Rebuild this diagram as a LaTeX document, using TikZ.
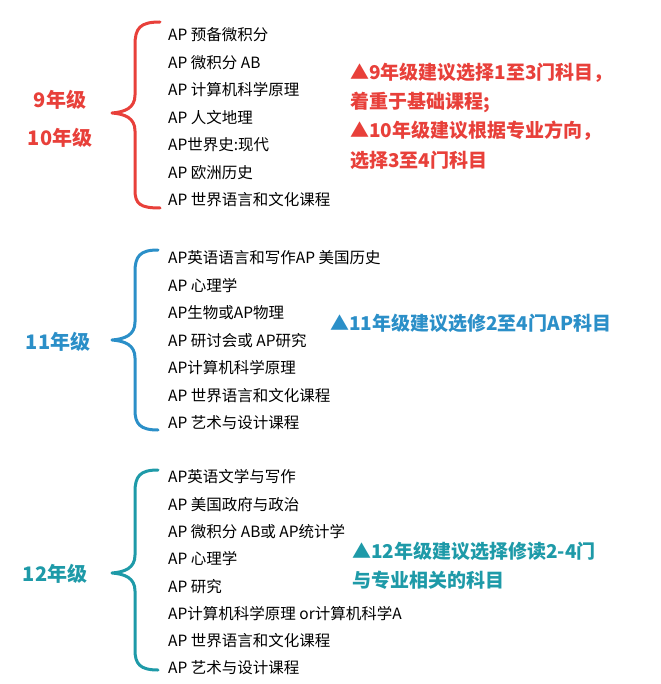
\documentclass[tikz,border=0pt]{standalone}
\usepackage{fontspec}
\newfontfamily\cjk{Noto Sans CJK SC}
\definecolor{cr}{HTML}{E8403A}
\definecolor{cb}{HTML}{2B8FC8}
\definecolor{ct}{HTML}{1E9AA8}
\begin{document}
\begin{tikzpicture}[x=1pt,y=-1pt,
 item/.style={anchor=west,font=\cjk\fontsize{15.5}{17}\selectfont,inner sep=0pt},
 grade/.style={font=\cjk\bfseries\fontsize{20}{22}\selectfont,inner sep=0pt},
 note/.style={anchor=west,font=\cjk\bfseries\fontsize{19}{21}\selectfont,inner sep=0pt},
 brace/.style={line width=3pt,line cap=round,line join=round}]
\useasboundingbox[fill=white] (0,0) rectangle (660,684);
% red
\draw[brace,cr] (160,22) .. controls (140,22) and (135,28) .. (135,45) -- (135,95) .. controls (135,108) and (125,112) .. (112,113) .. controls (125,114) and (135,118) .. (135,131) -- (135,190) .. controls (135,204) and (140,208) .. (160,208);
\foreach \t [count=\i] in {AP 预备微积分,AP 微积分 AB,AP 计算机科学原理,AP 人文地理,AP世界史:现代,AP 欧洲历史,AP 世界语言和文化课程}
  \node[item] (r\i) at (168,{35+27.5*(\i-1)}) {\t};
\node[grade,cr] (g9) at (60,100) {9年级};
\node[grade,cr] (g10) at (60,138) {10年级};
\node[note,cr] (n1) at (350,73) {▲9年级建议选择1至3门科目，};
\node[note,cr] (n2) at (350,102) {着重于基础课程;};
\node[note,cr] (n3) at (350,131) {▲10年级建议根据专业方向，};
\node[note,cr] (n4) at (350,160) {选择3至4门科目};
% blue
\draw[brace,cb] (158,250) .. controls (140,250) and (135,256) .. (135,272) -- (135,322) .. controls (135,335) and (125,339) .. (112,340) .. controls (125,341) and (135,345) .. (135,358) -- (135,410) .. controls (135,424) and (140,430) .. (158,430);
\foreach \t [count=\i] in {AP英语语言和写作AP 美国历史,AP 心理学,AP生物或AP物理,AP 研讨会或 AP研究,AP计算机科学原理,AP 世界语言和文化课程,AP 艺术与设计课程}
  \node[item] (b\i) at (168,{258+27.5*(\i-1)}) {\t};
\node[grade,cb] (g11) at (58,342) {11年级};
\node[note,cb] (n5) at (330,323) {▲11年级建议选修2至4门AP科目};
% teal
\draw[brace,ct] (158,470) .. controls (140,470) and (135,476) .. (135,492) -- (135,555) .. controls (135,568) and (125,572) .. (112,573) .. controls (125,574) and (135,578) .. (135,591) -- (135,650) .. controls (135,664) and (140,670) .. (158,670);
\foreach \t [count=\i] in {AP英语文学与写作,AP 美国政府与政治,AP 微积分 AB或 AP统计学,AP 心理学,AP 研究,AP计算机科学原理 or计算机科学A,AP 世界语言和文化课程,AP 艺术与设计课程}
  \node[item] (t\i) at (168,{477+27.3*(\i-1)}) {\t};
\node[grade,ct] (g12) at (55,574) {12年级};
\node[note,ct] (n6) at (352,551) {▲12年级建议选择修读2-4门};
\node[note,ct] (n7) at (352,580) {与专业相关的科目};
\end{tikzpicture}
\end{document}
